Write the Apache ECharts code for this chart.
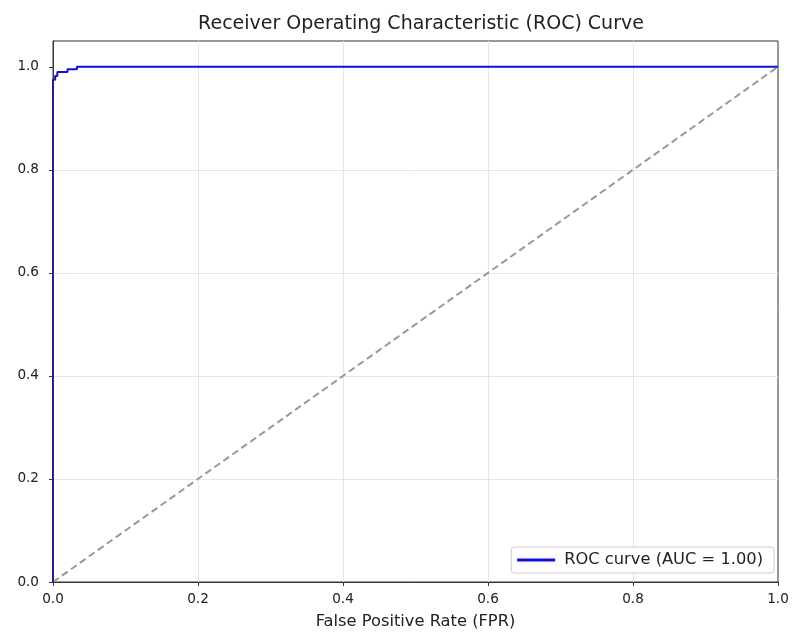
<!DOCTYPE html>
<html>
<head>
<meta charset="utf-8">
<script src="https://cdn.jsdelivr.net/npm/echarts@6/dist/echarts.min.js"></script>
<style>html,body{margin:0;padding:0;background:#fff;}#c{width:792px;height:632px;}</style>
</head>
<body>
<div id="c"></div>
<script>
const rocFpr = [0, 0, 0.003, 0.003, 0.006, 0.006, 0.02, 0.02, 0.033, 0.033, 1.0];
const rocTpr = [0, 0.975, 0.975, 0.982, 0.982, 0.99, 0.99, 0.995, 0.995, 1.0, 1.0];
const diagX = [0, 1];
const diagY = [0, 1];
const tickValues = [0, 0.2, 0.4, 0.6, 0.8, 1.0];
const rocName = 'ROC curve (AUC = 1.00)';
const titleText = 'Receiver Operating Characteristic (ROC) Curve';
const xLabel = 'False Positive Rate (FPR)';

const font = 'DejaVu Sans';
const frame = {show: true, lineStyle: {color: '#333', width: 1}};
const chart = echarts.init(document.getElementById('c'), null, {renderer: 'canvas'});
chart.setOption({
  backgroundColor: '#fff',
  animation: false,
  title: {
    text: titleText, left: 416, top: 10, textAlign: 'center',
    textStyle: {fontFamily: font, fontSize: 19, fontWeight: 'normal', color: '#222'}
  },
  grid: {left: 53, right: 14, top: 41, bottom: 50, outerBoundsMode: 'none', containLabel: false,
    show: true, borderColor: '#333', borderWidth: 1, backgroundColor: '#fff'},
  legend: {
    data: [{name: rocName, icon: 'rect'}],
    right: 18, bottom: 59, itemWidth: 38, itemHeight: 3, itemGap: 10,
    padding: [5, 11, 5, 6], borderColor: '#ccc', borderWidth: 1, borderRadius: 3,
    backgroundColor: 'rgba(255,255,255,0.85)',
    textStyle: {fontFamily: font, fontSize: 16.3, color: '#222', padding: [0, 0, 0, 4]}
  },
  xAxis: [{
    type: 'value', min: 0, max: 1, interval: 0.2,
    name: xLabel, nameLocation: 'middle', nameGap: 32,
    nameTextStyle: {fontFamily: font, fontSize: 16.3, color: '#222'},
    axisLine: frame,
    axisTick: {show: true, length: 4, lineStyle: {color: '#333'}},
    axisLabel: {margin: 10, fontFamily: font, fontSize: 13.6, color: '#222', formatter: v => v.toFixed(1)},
    splitLine: {show: true, showMinLine: false, showMaxLine: false, lineStyle: {color: '#e6e6e6', width: 1}}
  }, {
    type: 'value', position: 'top', min: 0, max: 1, z: 10,
    axisLine: frame, axisTick: {show: false}, axisLabel: {show: false}, splitLine: {show: false}
  }],
  yAxis: [{
    type: 'value', min: 0, max: 1.05, interval: 0.2,
    axisLine: frame,
    axisTick: {show: true, length: 4, lineStyle: {color: '#333'}, customValues: tickValues},
    axisLabel: {margin: 14, fontFamily: font, fontSize: 13.6, color: '#222', customValues: tickValues,
      formatter: v => (Math.abs(v - 1.05) < 1e-6 ? '' : v.toFixed(1))},
    splitLine: {show: true, showMinLine: false, showMaxLine: false, lineStyle: {color: '#e6e6e6', width: 1}}
  }, {
    type: 'value', position: 'right', min: 0, max: 1.05, z: 10,
    axisLine: frame, axisTick: {show: false}, axisLabel: {show: false}, splitLine: {show: false}
  }],
  series: [
    {
      name: 'diag', type: 'line', data: diagX.map((x, i) => [x, diagY[i]]),
      showSymbol: false, symbol: 'none',
      lineStyle: {color: '#999', width: 2, type: [7, 4]}, z: 2
    },
    {
      name: rocName, type: 'line', data: rocFpr.map((x, i) => [x, rocTpr[i]]),
      showSymbol: false, symbol: 'none',
      lineStyle: {color: '#1010d8', width: 2}, itemStyle: {color: '#1010d8'}, z: 3
    }
  ]
});
</script>
</body>
</html>
